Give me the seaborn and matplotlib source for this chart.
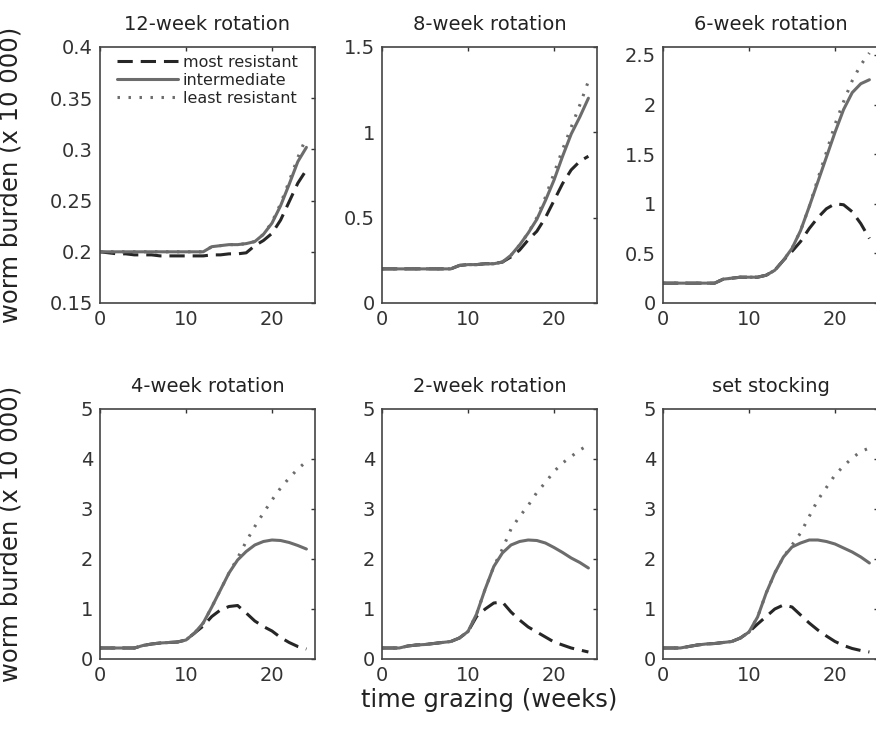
import pandas as pd
import matplotlib
matplotlib.use('Agg')
import matplotlib.pyplot as plt
import matplotlib.ticker as mticker
import seaborn as sns

weeks = list(range(25))
strains = ['most resistant', 'intermediate', 'least resistant']

# 12-week rotation
most_12 = [.200, .199, .198, .198, .197, .197, .197, .196, .196, .196, .196, .196, .196,
           .197, .197, .198, .198, .199, .206, .211, .218, .231, .249, .267, .280]
inter_12 = [.200, .200, .200, .200, .200, .200, .200, .200, .200, .200, .200, .200, .200,
            .205, .206, .207, .207, .208, .210, .217, .228, .245, .266, .288, .302]
least_12 = [.200, .200, .200, .200, .200, .200, .200, .200, .200, .200, .200, .200, .200,
            .205, .206, .207, .207, .208, .210, .217, .229, .247, .269, .292, .312]

# 8-week rotation
most_8 = [.20, .20, .20, .20, .20, .20, .20, .20, .20, .22, .225, .225, .23,
          .23, .24, .27, .31, .37, .42, .50, .60, .70, .78, .83, .86]
inter_8 = [.20, .20, .20, .20, .20, .20, .20, .20, .20, .22, .225, .225, .23,
           .23, .24, .28, .34, .41, .49, .60, .72, .86, .99, 1.09, 1.20]
least_8 = [.20, .20, .20, .20, .20, .20, .20, .20, .20, .22, .225, .225, .23,
           .23, .24, .28, .34, .41, .50, .62, .76, .90, 1.03, 1.16, 1.30]

# 6-week rotation
most_6 = [.20, .20, .20, .20, .20, .20, .20, .24, .25, .26, .26, .26, .28,
          .33, .43, .52, .62, .75, .86, .95, 1.00, .99, .92, .80, .65]
inter_6 = [.20, .20, .20, .20, .20, .20, .20, .24, .25, .26, .26, .26, .28,
           .33, .43, .55, .73, .97, 1.22, 1.47, 1.72, 1.95, 2.12, 2.21, 2.25]
least_6 = [.20, .20, .20, .20, .20, .20, .20, .24, .25, .26, .26, .26, .28,
           .33, .43, .55, .73, .97, 1.25, 1.52, 1.80, 2.03, 2.24, 2.40, 2.52]

# 4-week rotation
most_4 = [.22, .22, .22, .22, .22, .27, .30, .32, .33, .34, .38, .52, .66,
          .85, .98, 1.05, 1.07, .92, .76, .65, .56, .43, .33, .25, .20]
inter_4 = [.22, .22, .22, .22, .22, .27, .30, .32, .33, .34, .38, .52, .72,
           1.04, 1.38, 1.72, 1.98, 2.15, 2.28, 2.35, 2.38, 2.37, 2.33, 2.27, 2.20]
least_4 = [.22, .22, .22, .22, .22, .27, .30, .32, .33, .34, .38, .52, .72,
           1.04, 1.38, 1.72, 2.02, 2.35, 2.65, 2.92, 3.18, 3.42, 3.62, 3.80, 3.95]

# 2-week rotation
most_2 = [.22, .22, .22, .26, .28, .29, .31, .33, .35, .42, .55, .85, 1.00,
          1.12, 1.14, .94, .78, .64, .54, .44, .34, .28, .22, .18, .14]
inter_2 = [.22, .22, .22, .26, .28, .29, .31, .33, .35, .42, .55, .90, 1.40,
           1.85, 2.12, 2.28, 2.35, 2.38, 2.37, 2.32, 2.23, 2.13, 2.02, 1.93, 1.82]
least_2 = [.22, .22, .22, .26, .28, .29, .31, .33, .35, .42, .55, .90, 1.40,
           1.85, 2.20, 2.60, 2.85, 3.07, 3.33, 3.53, 3.75, 3.92, 4.05, 4.18, 4.28]

# set stocking
most_s = [.22, .22, .22, .25, .28, .30, .31, .33, .35, .42, .54, .70, .85,
          1.00, 1.08, 1.04, .88, .72, .58, .46, .35, .27, .21, .17, .14]
inter_s = [.22, .22, .22, .25, .28, .30, .31, .33, .35, .42, .54, .84, 1.32,
           1.72, 2.04, 2.24, 2.32, 2.38, 2.38, 2.35, 2.30, 2.22, 2.14, 2.04, 1.92]
least_s = [.22, .22, .22, .25, .28, .30, .31, .33, .35, .42, .54, .84, 1.32,
           1.72, 2.04, 2.28, 2.52, 2.85, 3.18, 3.43, 3.68, 3.86, 4.02, 4.15, 4.22]

titles = ['12-week rotation', '8-week rotation', '6-week rotation',
          '4-week rotation', '2-week rotation', 'set stocking']
panels = [(most_12, inter_12, least_12), (most_8, inter_8, least_8),
          (most_6, inter_6, least_6), (most_4, inter_4, least_4),
          (most_2, inter_2, least_2), (most_s, inter_s, least_s)]
ylims = [(0.15, 0.4), (0, 1.5), (0, 2.58), (0, 5), (0, 5), (0, 5)]
yticks = [[0.15, 0.2, 0.25, 0.3, 0.35, 0.4], [0, 0.5, 1, 1.5],
          [0, 0.5, 1, 1.5, 2, 2.5], [0, 1, 2, 3, 4, 5], [0, 1, 2, 3, 4, 5],
          [0, 1, 2, 3, 4, 5]]

sns.set_theme(style='white')
plt.rcParams['font.family'] = ['DejaVu Sans']
plt.rcParams['xtick.direction'] = 'in'
plt.rcParams['ytick.direction'] = 'in'

palette = {'most resistant': '#262626', 'intermediate': '#6c6c6c',
           'least resistant': '#6c6c6c'}
dashes = {'most resistant': (5, 2.6), 'intermediate': '',
          'least resistant': (0.8, 2.8)}

fig = plt.figure(figsize=(8.76, 7.29), dpi=100)
W, H = 876, 729
lefts = [100, 382, 663]
rows = [(47, 303), (409, 659)]

for i, (vals, title) in enumerate(zip(panels, titles)):
    r, c = divmod(i, 3)
    top, bot = rows[r]
    ax = fig.add_axes([lefts[c] / W, 1 - bot / H, 215 / W, (bot - top) / H])
    df = pd.DataFrame({
        'week': weeks * 3,
        'burden': vals[0] + vals[1] + vals[2],
        'strain': [s for s in strains for _ in weeks],
    })
    sns.lineplot(data=df, x='week', y='burden', hue='strain', style='strain',
                 hue_order=strains, style_order=strains, palette=palette,
                 dashes=dashes, linewidth=2.2, estimator=None, legend=False, ax=ax)
    ax.set_xlim(0, 25)
    ax.set_ylim(*ylims[i])
    ax.set_xticks([0, 10, 20])
    ax.set_yticks(yticks[i])
    ax.yaxis.set_major_formatter(mticker.FormatStrFormatter('%g'))
    ax.tick_params(labelsize=14, length=3, width=1, colors='#333333',
                   top=True, right=True, pad=5)
    for sp in ax.spines.values():
        sp.set_color('#444444')
        sp.set_linewidth(1.2)
    ax.set_title(title, fontsize=14, color='#222222', pad=12)
    ax.set_xlabel('')
    ax.set_ylabel('')
    if c == 0:
        ax.set_ylabel('worm burden (x 10 000)', fontsize=17.5, color='#222222')
        ax.yaxis.set_label_coords(-0.36, 0.5)
    if i == 4:
        ax.set_xlabel('time grazing (weeks)', fontsize=17.5, color='#222222')
        ax.xaxis.set_label_coords(0.5, -0.115)
    if i == 0:
        ax.legend(ax.get_lines()[:3], strains, loc='upper left',
                  bbox_to_anchor=(0.08, 0.97), frameon=False, fontsize=11.5,
                  handlelength=3.8, handletextpad=0.3, labelspacing=0.2,
                  borderpad=0, borderaxespad=0)

fig.savefig('out.png', dpi=100)
